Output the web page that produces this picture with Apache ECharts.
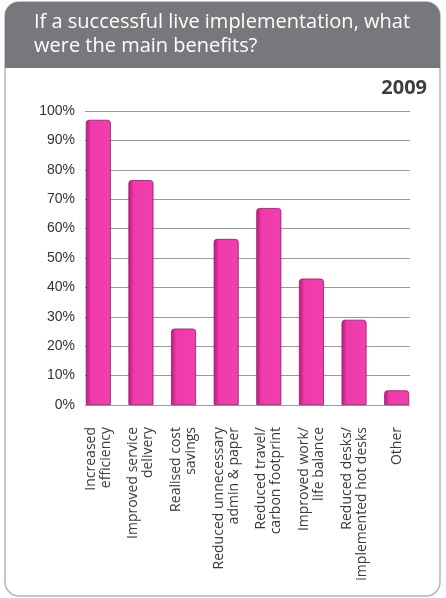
<!DOCTYPE html>
<html><head><meta charset="utf-8">
<script src="https://cdn.jsdelivr.net/npm/echarts@6/dist/echarts.min.js"></script>
<style>html,body{margin:0;padding:0;background:#fff}#c{width:446px;height:598px}</style>
</head><body><div id="c"></div>
<script>
var categories = [
  "Increased\nefficiency",
  "Improved service\ndelivery",
  "Realised cost\nsavings",
  "Reduced unnecessary\nadmin & paper",
  "Reduced travel/\ncarbon footprint",
  "Improved work/\nlife balance",
  "Reduced desks/\nimplemented hot desks",
  "Other"
];
var values = [97, 76.5, 26, 56.5, 67, 43, 29, 5];
var titleText = "If a successful live implementation, what\nwere the main benefits?";
var yearText = "2009";

var chart = echarts.init(document.getElementById('c'), null, {renderer: 'canvas'});
chart.setOption({
  animation: false,
  backgroundColor: '#fff',
  graphic: [
    {type: 'rect', shape: {x: 5, y: 2, width: 435, height: 594, r: 14}, style: {fill: '#fff', stroke: '#b5b5b5', lineWidth: 1.5}, z: -10},
    {type: 'rect', shape: {x: 5, y: 2, width: 435, height: 66, r: [14, 14, 0, 0]}, style: {fill: '#77787b'}, z: -9},
    {type: 'text', left: 34, top: 10, style: {text: titleText, fill: '#fff', font: '20px "Open Sans"', lineHeight: 24}},
    {type: 'text', right: 19, top: 78, style: {text: yearText, fill: '#3e3e3e', font: 'bold 20px "Open Sans"'}}
  ],
  grid: [
    {left: 85, right: 36, top: 111, height: 294},
    {left: 77, right: 28, top: 111, height: 304}
  ],
  xAxis: [
    {gridIndex: 0, type: 'value', show: false, min: 0, max: 1},
    {gridIndex: 1, type: 'category', data: categories,
     axisLine: {show: false}, axisTick: {show: false},
     axisLabel: {rotate: 90, margin: 12, interval: 0, fontFamily: 'Open Sans', fontSize: 14, color: '#3a3a3a', lineHeight: 15}}
  ],
  yAxis: [
    {gridIndex: 0, type: 'value', min: 0, max: 100, interval: 10,
     axisLine: {show: false}, axisTick: {show: false},
     axisLabel: {formatter: '{value}%', fontFamily: 'Liberation Sans', fontSize: 14, color: '#333', margin: 10},
     splitLine: {lineStyle: {color: '#9a9a9a', width: 1}}},
    {gridIndex: 1, type: 'value', min: -3.4, max: 100, show: false, splitLine: {show: false}}
  ],
  series: [{
    type: 'bar', xAxisIndex: 1, yAxisIndex: 1, data: values, barWidth: 25,
    itemStyle: {
      color: new echarts.graphic.LinearGradient(0, 0, 1, 0, [
        {offset: 0, color: '#b8207c'}, {offset: 0.12, color: '#d52a95'},
        {offset: 0.2, color: '#ee3aab'}, {offset: 1, color: '#f23fb0'}
      ]),
      borderColor: '#8e1a5e', borderWidth: 0.8, borderRadius: [3, 3, 0, 0]
    }
  }]
});
</script></body></html>
